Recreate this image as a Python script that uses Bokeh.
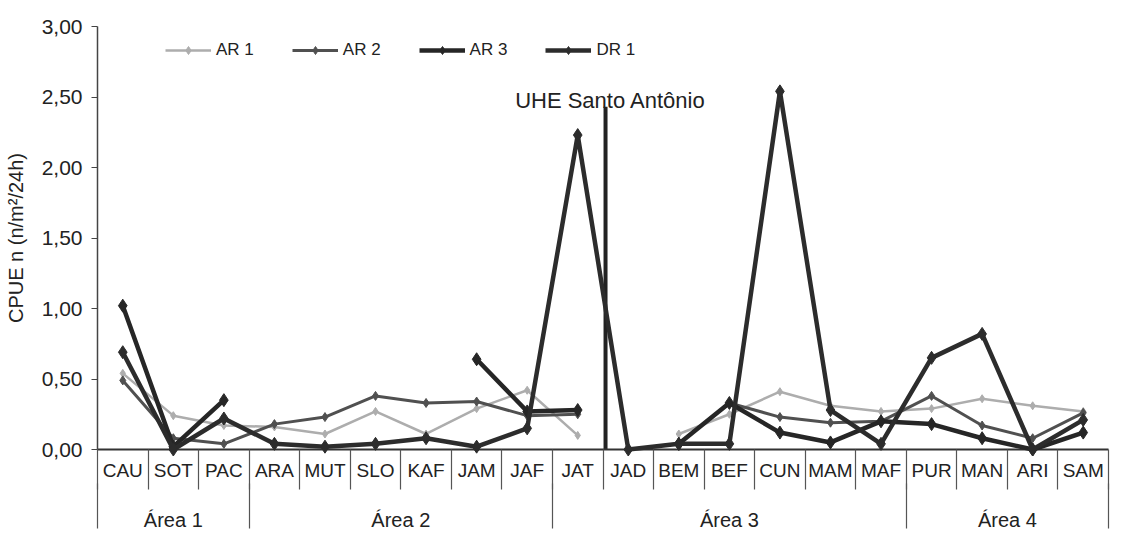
import numpy as np
from bokeh.plotting import figure
from bokeh.models import (Range1d, FixedTicker, LinearAxis, Legend, LegendItem, Label)
from bokeh.embed import file_html
from bokeh.resources import INLINE

nan = float("nan")

# ---- data ----
sites = ["CAU", "SOT", "PAC", "ARA", "MUT", "SLO", "KAF", "JAM", "JAF", "JAT",
         "JAD", "BEM", "BEF", "CUN", "MAM", "MAF", "PUR", "MAN", "ARI", "SAM"]
areas = ["Área 1", "Área 2", "Área 3", "Área 4"]
area_sizes = [3, 6, 7, 4]

ar1 = [0.54, 0.24, 0.17, 0.16, 0.11, 0.27, 0.11, 0.29, 0.42, 0.10,
       nan, 0.11, 0.25, 0.41, 0.31, 0.27, 0.29, 0.36, 0.31, 0.27]
ar2 = [0.49, 0.08, 0.04, 0.18, 0.23, 0.38, 0.33, 0.34, 0.24, 0.25,
       nan, nan, 0.33, 0.23, 0.19, 0.20, 0.38, 0.17, 0.08, 0.26]
ar3 = [1.02, 0.02, 0.35, nan, nan, nan, nan, 0.64, 0.27, 0.28,
       nan, 0.04, 0.33, 0.12, 0.05, 0.20, 0.18, 0.08, 0.00, 0.12]
dr1 = [0.69, 0.00, 0.22, 0.04, 0.02, 0.04, 0.08, 0.02, 0.15, 2.23,
       0.00, 0.04, 0.04, 2.54, 0.28, 0.04, 0.65, 0.82, 0.00, 0.21]

series_names = ["AR 1", "AR 2", "AR 3", "DR 1"]
y_ticks = [0.0, 0.5, 1.0, 1.5, 2.0, 2.5, 3.0]
y_tick_labels = ["0,00", "0,50", "1,00", "1,50", "2,00", "2,50", "3,00"]
y_label = "CPUE n (n/m²/24h)"
dam_after = "JAT"
dam_label = "UHE Santo Antônio"
dam_top = 2.43

# ---- styles ----
FONT = "Liberation Sans"
TXT = "#222222"
styles = [
    dict(color="#adadad", width=2.5, size=8),
    dict(color="#505050", width=3.0, size=9),
    dict(color="#262626", width=4.5, size=13),
    dict(color="#2c2c2c", width=4.5, size=13),
]

xs = list(range(len(sites)))

p = figure(width=1111, height=533,
           x_range=Range1d(-0.5, len(sites) - 0.5), y_range=Range1d(0, 3),
           output_backend="svg", toolbar_location=None,
           x_axis_location=None, y_axis_location=None,
           min_border_left=97, min_border_right=3, min_border_top=26, min_border_bottom=84)
p.grid.visible = False
p.outline_line_color = None
p.background_fill_color = "white"
p.border_fill_color = "white"

# y axis
yaxis = LinearAxis(ticker=FixedTicker(ticks=y_ticks),
                   major_label_overrides={t: s for t, s in zip(y_ticks, y_tick_labels)},
                   axis_label=y_label)
yaxis.axis_line_color = "#444444"
yaxis.axis_line_width = 1.5
yaxis.major_tick_line_color = "#444444"
yaxis.major_tick_out = 6
yaxis.major_tick_in = 0
yaxis.minor_tick_line_color = None
yaxis.major_label_standoff = 9
yaxis.major_label_text_font = FONT
yaxis.major_label_text_font_size = "21px"
yaxis.major_label_text_color = TXT
yaxis.axis_label_text_font = FONT
yaxis.axis_label_text_font_size = "20px"
yaxis.axis_label_text_font_style = "normal"
yaxis.axis_label_text_color = TXT
yaxis.axis_label_standoff = 12
p.add_layout(yaxis, "left")

# x axis: site labels at centres, separators at boundaries
bounds = [i - 0.5 for i in range(len(sites) + 1)]
xaxis = LinearAxis(ticker=FixedTicker(ticks=xs, minor_ticks=bounds),
                   major_label_overrides={i: s for i, s in enumerate(sites)})
xaxis.axis_line_color = "#333333"
xaxis.axis_line_width = 2
xaxis.major_tick_line_color = None
xaxis.major_tick_out = 0
xaxis.major_tick_in = 0
xaxis.minor_tick_line_color = "#555555"
xaxis.minor_tick_line_width = 1.2
xaxis.minor_tick_out = 40
xaxis.minor_tick_in = 0
xaxis.major_label_standoff = -30
xaxis.major_label_text_font = FONT
xaxis.major_label_text_font_size = "19px"
xaxis.major_label_text_color = TXT
p.add_layout(xaxis, "below")

# area axis
starts = list(np.cumsum([0] + area_sizes[:-1]))
area_centers = [float(s + (n - 1) / 2) for s, n in zip(starts, area_sizes)]
area_bounds = [float(s) - 0.5 for s in starts] + [len(sites) - 0.5]
aaxis = LinearAxis(ticker=FixedTicker(ticks=area_centers, minor_ticks=area_bounds),
                   major_label_overrides={c: a for c, a in zip(area_centers, areas)})
aaxis.axis_line_color = None
aaxis.major_tick_line_color = None
aaxis.major_tick_out = 0
aaxis.major_tick_in = 0
aaxis.minor_tick_line_color = "#555555"
aaxis.minor_tick_line_width = 1.2
aaxis.minor_tick_out = 45
aaxis.minor_tick_in = 0
aaxis.major_label_standoff = -20
aaxis.major_label_text_font = FONT
aaxis.major_label_text_font_size = "20px"
aaxis.major_label_text_color = TXT
p.add_layout(aaxis, "below")

# dam line
dam_x = sites.index(dam_after) + 0.55
p.segment(x0=[dam_x], y0=[0], x1=[dam_x], y1=[dam_top], line_color="#222222", line_width=4)
p.add_layout(Label(x=dam_x, y=dam_top + 0.045, x_offset=5, text=dam_label, text_align="center",
                   text_baseline="alphabetic", text_font=FONT, text_font_size="22px",
                   text_color=TXT))

items = []
for name, vals, st in zip(series_names, [ar1, ar2, ar3, dr1], styles):
    y = np.array(vals, dtype=float)
    rl = p.line(xs, y, line_color=st["color"], line_width=st["width"], level="overlay")
    mask = ~np.isnan(y)
    rs = p.scatter(np.array(xs)[mask], y[mask], marker="diamond", size=st["size"],
                   fill_color=st["color"], line_color=st["color"], level="overlay")
    items.append(LegendItem(label=name, renderers=[rl, rs]))

legend = Legend(items=items, orientation="horizontal", location=(68, 389))
legend.border_line_color = None
legend.background_fill_alpha = 0
legend.label_text_font = FONT
legend.label_text_font_size = "17px"
legend.label_text_color = TXT
legend.glyph_width = 46
legend.glyph_height = 20
legend.spacing = 38
legend.label_standoff = 5
legend.padding = 4
legend.margin = 0
p.add_layout(legend, "center")

open("out.html", "w").write(file_html(p, INLINE))
